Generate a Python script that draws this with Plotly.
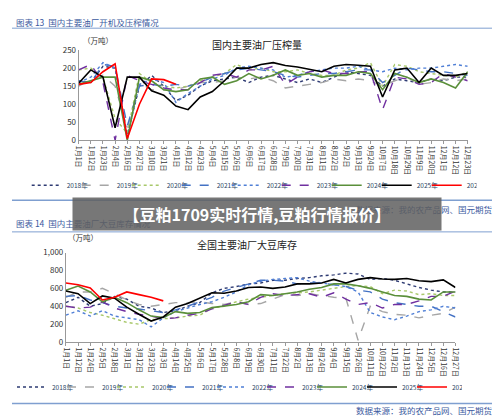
import plotly.graph_objects as go

years = ["2018年", "2019年", "2020年", "2021年", "2022年", "2023年", "2024年", "2025年", "2026年"]
colors = ["#2e3b73", "#a6a6a6", "#a8c86a", "#4472c4", "#4f7fd6", "#7030a0", "#5a8f3a", "#000000", "#ff0000"]
dashes = ["dot", "dash", "dot", "dash", "dot", "dash", "solid", "solid", "solid"]

# chart 13: crush volume (万吨)
dates13 = ["1月1日", "1月12日", "1月23日", "2月4日", "2月16日", "2月27日", "3月10日", "3月21日", "4月1日",
           "4月12日", "4月23日", "5月4日", "5月15日", "5月26日", "6月6日", "6月17日", "6月28日", "7月9日",
           "7月20日", "7月31日", "8月11日", "8月22日", "9月2日", "9月13日", "9月24日", "10月7日", "10月18日",
           "10月29日", "11月9日", "11月20日", "12月1日", "12月12日", "12月23日"]
crush_2018 = [165, 160, 205, 200, 15, 150, 180, 150, 110, 125, 150, 165, 170, 175, 160, 175, 180, 170, 160, 170, 160, 175, 190, 185, 180, 150, 170, 165, 160, 170, 165, 175, 175]
crush_2019 = [150, 170, 180, 150, 30, 160, 140, 140, 140, 150, 160, 160, 165, 175, 170, 175, 165, 145, 150, 155, 160, 170, 165, 170, 165, 150, 165, 175, 155, 160, 170, 165, 170]
crush_2020 = [195, 200, 175, 60, 20, 185, 160, 150, 145, 150, 165, 175, 185, 210, 195, 200, 190, 190, 195, 185, 180, 180, 195, 200, 215, 150, 210, 205, 190, 185, 180, 175, 190]
crush_2021 = [165, 160, 210, 205, 40, 150, 155, 150, 155, 150, 160, 175, 185, 195, 200, 195, 190, 180, 175, 180, 185, 185, 190, 195, 195, 160, 180, 200, 195, 190, 190, 185, 180]
crush_2022 = [160, 175, 215, 200, 10, 155, 170, 160, 105, 130, 150, 170, 180, 200, 205, 200, 195, 175, 180, 190, 195, 200, 200, 205, 195, 190, 200, 195, 200, 200, 205, 210, 205]
crush_2023 = [195, 210, 160, 0, 180, 165, 155, 145, 140, 140, 160, 180, 185, 175, 195, 195, 205, 155, 175, 190, 195, 185, 185, 190, 190, 85, 175, 170, 155, 160, 185, 175, 165]
crush_2024 = [155, 165, 175, 175, 0, 175, 165, 140, 135, 140, 170, 175, 155, 165, 185, 170, 180, 195, 180, 185, 175, 180, 180, 190, 185, 140, 185, 175, 160, 170, 160, 145, 190]
crush_2025 = [158, 195, 175, 35, 175, 175, 137, 125, 95, 85, 120, 135, 165, 200, 200, 210, 215, 207, 203, 197, 190, 205, 210, 208, 205, 120, 195, 200, 160, 200, 180, 180, 185]
crush_2026 = [155, 160, 190, 212, 5, 100, 170, 168, 155]

# chart 14: soybean stocks (万吨)
dates14 = ["1月1日", "1月12日", "1月24日", "2月5日", "2月18日", "3月1日", "3月12日", "3月23日", "4月3日",
           "4月14日", "4月25日", "5月6日", "5月17日", "5月28日", "6月8日", "6月19日", "6月30日", "7月11日",
           "7月22日", "8月2日", "8月13日", "8月24日", "9月4日", "9月15日", "9月26日", "10月11日", "10月22日",
           "11月2日", "11月13日", "11月24日", "12月5日", "12月16日", "12月27日"]
stock_2018 = [440, 500, 400, 430, 510, 480, 400, 380, 330, 350, 400, 440, 550, 600, 620, 650, 660, 690, 690, 710, 720, 740, 750, 770, 760, 700, 710, 690, 650, 610, 580, 560, 560]
stock_2019 = [500, 560, 560, 600, 540, 470, 420, 400, 420, 440, 440, 450, 430, 420, 450, 420, 430, 480, 530, 520, 540, 520, 500, 490, 20, 400, 340, 310, 300, 270, 300, 320, 390]
stock_2020 = [400, 380, 330, 300, 260, 220, 200, 250, 260, 270, 290, 300, 380, 400, 450, 480, 500, 520, 540, 550, 560, 580, 600, 620, 630, 620, 540, 580, 570, 530, 540, 520, 520]
stock_2021 = [510, 520, 470, 440, 400, 380, 370, 350, 330, 360, 400, 450, 500, 570, 610, 650, 690, 690, 680, 650, 660, 660, 640, 620, 580, 560, 480, 440, 420, 400, 400, 340, 280]
stock_2022 = [300, 350, 290, 350, 290, 270, 250, 170, 270, 340, 380, 420, 450, 500, 560, 640, 680, 700, 710, 720, 680, 660, 640, 620, 560, 330, 280, 250, 290, 340, 360, 400, 380]
stock_2023 = [400, 380, 390, 450, 380, 340, 310, 290, 260, 270, 300, 320, 370, 410, 450, 420, 500, 540, 520, 530, 540, 500, 550, 480, 420, 440, 380, 420, 420, 460, 510, 510, 570]
stock_2024 = [580, 625, 560, 450, 500, 440, 360, 290, 275, 340, 320, 330, 385, 400, 420, 450, 530, 520, 540, 560, 590, 610, 650, 650, 630, 600, 560, 520, 510, 480, 470, 560, 560]
stock_2025 = [570, 540, 430, 515, 490, 390, 310, 235, 280, 390, 430, 490, 550, 545, 570, 610, 615, 600, 615, 650, 650, 660, 700, 660, 700, 720, 705, 700, 710, 685, 675, 695, 610]
stock_2026 = [660, 640, 605, 470, 500, 560, 530, 500, 460]

crush = [crush_2018, crush_2019, crush_2020, crush_2021, crush_2022, crush_2023, crush_2024, crush_2025, crush_2026]
stock = [stock_2018, stock_2019, stock_2020, stock_2021, stock_2022, stock_2023, stock_2024, stock_2025, stock_2026]

FONT = "Noto Sans CJK SC"
fig = go.Figure()
for i, y in enumerate(years):
    line = dict(color=colors[i], width=1.6 if dashes[i] == "solid" else 1.4, dash=dashes[i])
    fig.add_trace(go.Scatter(x=dates13[:len(crush[i])], y=crush[i], mode="lines", line=line,
                             name=y, legend="legend", xaxis="x", yaxis="y"))
    fig.add_trace(go.Scatter(x=dates14[:len(stock[i])], y=stock[i], mode="lines", line=line,
                             name=y, legend="legend2", xaxis="x2", yaxis="y2"))

xcommon = dict(type="category", tickangle=90, tickfont=dict(size=7, color="#333"), showgrid=False,
               showline=True, linecolor="#999", ticks="outside", ticklen=3, tickcolor="#999")
ycommon = dict(tickfont=dict(size=8, color="#333"), showgrid=False, showline=True, linecolor="#999", zeroline=False)
legcommon = dict(orientation="h", xanchor="left", yanchor="middle", bgcolor="rgba(0,0,0,0)",
                 font=dict(size=6.5), entrywidth=5, entrywidthmode="pixels", itemwidth=30, tracegroupgap=0)

fig.update_layout(
    width=500, height=416, margin=dict(l=0, r=0, t=0, b=0),
    paper_bgcolor="white", plot_bgcolor="white", font=dict(family=FONT),
    xaxis=dict(domain=[0.136, 0.93], anchor="y", categoryarray=dates13, **xcommon),
    yaxis=dict(domain=[0.688, 0.911], range=[0, 250], dtick=50, anchor="x", **ycommon),
    xaxis2=dict(domain=[0.11, 0.905], anchor="y2", categoryarray=dates14, **xcommon),
    yaxis2=dict(domain=[0.19, 0.411], range=[0, 1000], dtick=200, tickformat=",", anchor="x2", **ycommon),
    legend=dict(x=0.03, y=0.577, **legcommon),
    legend2=dict(x=0.0, y=0.079, **legcommon),
)

shapes = [
    dict(type="line", xref="paper", yref="paper", x0=0, x1=1, y0=0.965, y1=0.965, line=dict(color="#7f9fd0", width=1)),
    dict(type="line", xref="paper", yref="paper", x0=0, x1=1, y0=0.54, y1=0.54, line=dict(color="#7f9fd0", width=1.5)),
    dict(type="line", xref="paper", yref="paper", x0=0, x1=1, y0=0.462, y1=0.462, line=dict(color="#7f9fd0", width=1)),
    dict(type="line", xref="paper", yref="paper", x0=0, x1=1, y0=0.038, y1=0.038, line=dict(color="#7f9fd0", width=1.5)),
]
ann = [
    dict(text="图表 13  国内主要油厂开机及压榨情况", x=0.005, y=0.98, xanchor="left", font=dict(size=8.5, color="#3b5aa0")),
    dict(text="国内主要油厂压榨量", x=0.5, y=0.925, font=dict(size=10, color="#222")),
    dict(text="（万吨）", x=0.14, y=0.935, font=dict(size=7.5, color="#333")),
    dict(text="图表 14  国内主要油厂大豆库存情况", x=0.005, y=0.483, xanchor="left", font=dict(size=8.5, color="#3b5aa0")),
    dict(text="全国主要油厂大豆库存", x=0.48, y=0.43, font=dict(size=10, color="#222")),
    dict(text="（万吨）", x=0.11, y=0.447, font=dict(size=7.5, color="#333")),
    dict(text="数据来源：我的农产品网、国元期货", x=0.985, y=0.021, xanchor="right", font=dict(size=8.5, color="#3b5aa0")),
    dict(text="数据来源：我的农产品网、国元期货", x=0.985, y=0.519, xanchor="right", font=dict(size=8.5, color="#3b5aa0")),
]
for a in ann:
    a.update(xref="paper", yref="paper", showarrow=False, yanchor="middle")
fig.update_layout(shapes=shapes, annotations=ann)

# banner overlay drawn as a filled annotation so it sits on top of the source text
fig.add_annotation(text="<b>【豆粕1709实时行情,豆粕行情报价】</b>", xref="paper", yref="paper", x=0.499, y=0.506,
                   showarrow=False, font=dict(size=16, color="white"), bgcolor="rgba(95,95,95,0.85)",
                   width=366, height=30, borderpad=1)
fig.write_html("out.html")
